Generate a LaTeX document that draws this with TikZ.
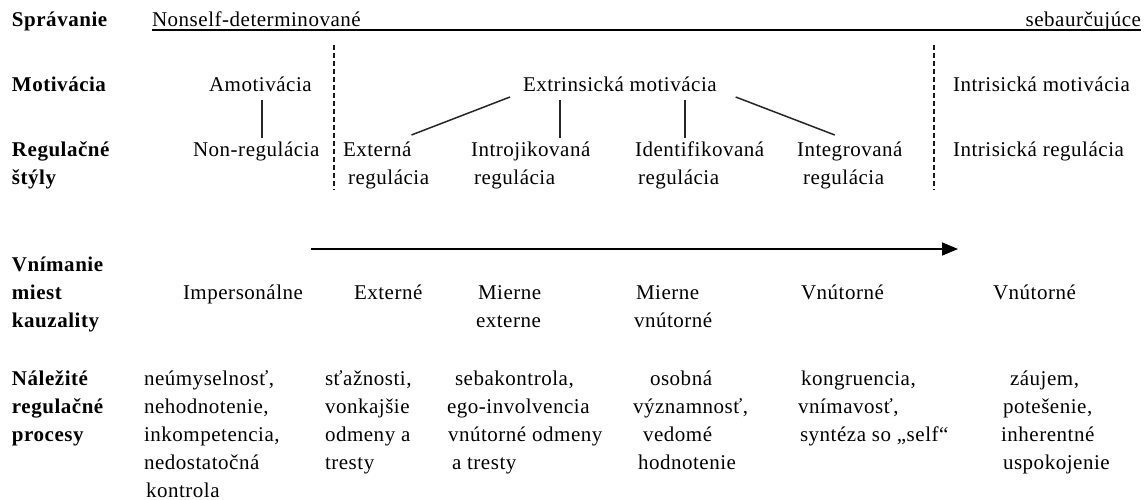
\documentclass[tikz,border=0pt]{standalone}
\usepackage{fontspec}
\setmainfont{Liberation Serif}[LetterSpace=2.5]
\usetikzlibrary{arrows.meta}
\begin{document}
\begin{tikzpicture}[x=1pt,y=-1pt,
  every node/.style={inner sep=0pt, outer sep=0pt, anchor=base west,
    font=\fontsize{21}{25}\selectfont, text height=15pt, text depth=5pt},
  lbl/.style={font=\fontsize{21}{25}\selectfont\bfseries},
  conn/.style={line width=1.5pt, draw=black!85},
  sepline/.style={line width=2pt, draw=black!90, dash pattern=on 5pt off 3pt},
  arr/.style={line width=1.6pt, -{Triangle[length=16pt,width=13pt]}}]
\useasboundingbox (0,0) rectangle (1146,500);

% row labels
\node[lbl] (lSpr) at (12,27) {Správanie};
\node[lbl] (lMot) at (12,92) {Motivácia};
\node[lbl] (lReg1) at (12,157) {Regulačné};
\node[lbl] (lReg2) at (12,185) {štýly};
\node[lbl] (lVn1) at (12,271) {Vnímanie};
\node[lbl] (lVn2) at (12,299) {miest};
\node[lbl] (lVn3) at (12,327) {kauzality};
\node[lbl] (lNa1) at (12,385) {Náležité};
\node[lbl] (lNa2) at (12,413) {regulačné};
\node[lbl] (lNa3) at (12,441) {procesy};

% behaviour row
\node (nonself) at (152,27) {Nonself-determinované};
\node[anchor=base east] (sebaur) at (1141,27) {sebaurčujúce};
\coordinate (ulE) at (1141,30);
\draw[line width=1.2pt] ([yshift=-3pt]nonself.base west) -- (ulE);

% separators
\draw[sepline] (333.5,45) -- (333.5,190);
\draw[sepline] (933.5,45) -- (933.5,190);

% motivation row
\node (amot) at (209,92) {Amotivácia};
\node (extr) at (523,92) {Extrinsická motivácia};
\node (intrm) at (953,92) {Intrisická motivácia};

% regulation styles
\node (nonreg) at (193,157) {Non-regulácia};
\node (ext1) at (343,157) {Externá};
\node (ext2) at (348,185) {regulácia};
\node (intro1) at (471,157) {Introjikovaná};
\node (intro2) at (474,185) {regulácia};
\node (ident1) at (635,157) {Identifikovaná};
\node (ident2) at (638,185) {regulácia};
\node (integ1) at (797,157) {Integrovaná};
\node (integ2) at (803,185) {regulácia};
\node (intrr) at (953,157) {Intrisická regulácia};

% connectors
\draw[conn] ([yshift=-3pt]amot.south -| 262,0) -- ([yshift=4pt]nonreg.north -| 262,0);
\draw[conn] ([xshift=-13pt]extr.south west) -- ([xshift=0pt,yshift=7pt]ext1.north east);
\draw[conn] ([yshift=-3pt]extr.south -| 560,0) -- ([yshift=4pt]intro1.north -| 560,0);
\draw[conn] ([yshift=-3pt]extr.south -| 685,0) -- ([yshift=4pt]ident1.north -| 685,0);
\draw[conn] ([xshift=19pt]extr.south east) -- ([xshift=-15pt,yshift=7pt]integ1.north);

% arrow
\coordinate (arrS) at (311,249);
\coordinate (arrE) at (958,249);
\draw[arr] (arrS) -- (arrE);

% locus of causality
\node (pImp) at (183,299) {Impersonálne};
\node (pExt) at (354,299) {Externé};
\node (pMe1) at (478,299) {Mierne};
\node (pMe2) at (476,327) {externe};
\node (pMv1) at (636,299) {Mierne};
\node (pMv2) at (634,327) {vnútorné};
\node (pVn1) at (801,299) {Vnútorné};
\node (pVn2) at (993,299) {Vnútorné};

% processes
\node (a1) at (144,385) {neúmyselnosť,};
\node (a2) at (144,413) {nehodnotenie,};
\node (a3) at (144,441) {inkompetencia,};
\node (a4) at (144,469) {nedostatočná};
\node (a5) at (146,497) {kontrola};

\node (b1) at (325,385) {sťažnosti,};
\node (b2) at (325,413) {vonkajšie};
\node (b3) at (325,441) {odmeny a};
\node (b4) at (325,469) {tresty};

\node (c1) at (455,385) {sebakontrola,};
\node (c2) at (447,413) {ego-involvencia};
\node (c3) at (448,441) {vnútorné odmeny};
\node (c4) at (452,469) {a tresty};

\node (d1) at (650,385) {osobná};
\node (d2) at (633,413) {významnosť,};
\node (d3) at (643,441) {vedomé};
\node (d4) at (638,469) {hodnotenie};

\node (e1) at (801,385) {kongruencia,};
\node (e2) at (798,413) {vnímavosť,};
\node (e3) at (800,441) {syntéza so „self“};

\node (f1) at (1010,385) {záujem,};
\node (f2) at (1003,413) {potešenie,};
\node (f3) at (1001,441) {inherentné};
\node (f4) at (1003,469) {uspokojenie};
\end{tikzpicture}
\end{document}
